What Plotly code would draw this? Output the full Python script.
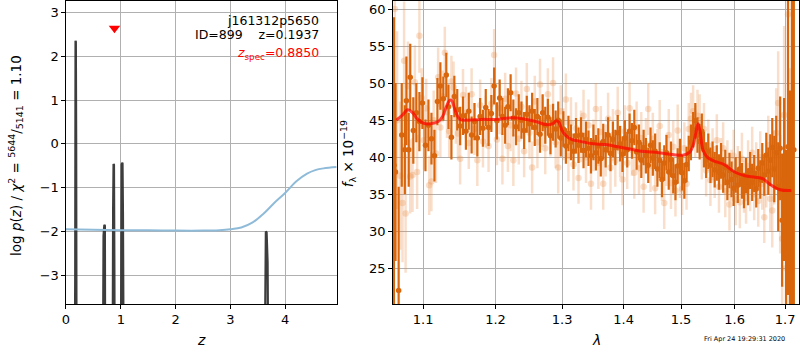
import plotly.graph_objects as go

# ---------------- left panel data ----------------
pz_z = [0.0, 0.155, 0.168, 0.174, 0.180, 0.186, 0.196,
        0.665, 0.685, 0.700, 0.710, 0.720,
        0.845, 0.860, 0.868, 0.876, 0.884, 0.895,
        0.995, 1.008, 1.016, 1.025, 1.032, 1.040, 1.050, 1.062,
        3.610, 3.632, 3.648, 3.662, 3.680, 3.705, 4.94]
pz_log = [-8, -8, -3.0, 2.35, 2.33, 0.1, -8,
          -8, -2.1, -1.85, -1.87, -8,
          -8, -1.5, -0.46, -0.48, -3.0, -8,
          -8, -1.0, -0.47, -0.43, -0.45, -1.6, -3.0, -8,
          -8, -2.6, -2.0, -2.02, -2.7, -8, -8]

chi_z = [0.0, 0.5, 1.0, 1.5, 2.0, 2.5, 2.8, 3.0, 3.2, 3.4, 3.6, 3.8, 4.0,
         4.2, 4.4, 4.55, 4.7, 4.94]
chi_v = [-1.95, -1.96, -1.97, -1.97, -1.98, -1.98, -1.97, -1.95, -1.91, -1.80,
         -1.60, -1.35, -1.12, -0.86, -0.68, -0.60, -0.56, -0.53]

zspec = [0.885]
zspec_y = [2.64]

# ---------------- right panel data ----------------
dark_wave = [1.062, 1.064, 1.068, 1.072, 1.076, 1.078, 1.081, 1.083, 1.087, 1.091,
             1.095, 1.099, 1.103, 1.107, 1.111, 1.115, 1.119, 1.123, 1.127, 1.131,
             1.134, 1.138, 1.142, 1.146, 1.150, 1.154, 1.158, 1.162, 1.166, 1.170,
             1.174, 1.178, 1.182, 1.186, 1.190, 1.194, 1.198, 1.202, 1.206, 1.210,
             1.214, 1.218, 1.222, 1.226, 1.230, 1.234, 1.238, 1.242, 1.246, 1.250,
             1.254, 1.258, 1.262, 1.266, 1.270, 1.274, 1.278, 1.282, 1.286, 1.290,
             1.294, 1.298, 1.302, 1.306, 1.310, 1.314, 1.318, 1.322, 1.326, 1.330,
             1.334, 1.338, 1.342, 1.346, 1.350, 1.354, 1.358, 1.362, 1.366, 1.370,
             1.374, 1.378, 1.382, 1.386, 1.390, 1.394, 1.398, 1.402, 1.406, 1.410,
             1.414, 1.418, 1.422, 1.426, 1.430, 1.434, 1.438, 1.442, 1.446, 1.450,
             1.454, 1.458, 1.462, 1.466, 1.470, 1.474, 1.478, 1.482, 1.486, 1.490,
             1.494, 1.498, 1.502, 1.506, 1.510, 1.514, 1.518, 1.522, 1.526, 1.530,
             1.534, 1.538, 1.542, 1.546, 1.550, 1.554, 1.558, 1.562, 1.566, 1.570,
             1.574, 1.578, 1.582, 1.586, 1.590, 1.594, 1.598, 1.602, 1.606, 1.610,
             1.614, 1.618, 1.622, 1.626, 1.630, 1.634, 1.638, 1.642, 1.646, 1.650,
             1.654, 1.658, 1.662, 1.666, 1.670, 1.674, 1.678, 1.682, 1.686, 1.690,
             1.694, 1.698, 1.702, 1.706, 1.710, 1.714, 1.718]
dark_flux = [38.9, 38.0, 22.0, 43.0, 41.0, 47.6, 41.0, 50.8, 43.6, 46.0,
             44.8, 47.3, 41.6, 44.3, 42.5, 40.2, 47.5, 49.6, 47.9, 51.1,
             46.8, 42.7, 48.2, 46.4, 44.2, 45.6, 43.5, 46.2, 43.0, 44.8,
             42.6, 45.5, 43.9, 46.7, 44.0, 45.9, 49.6, 44.9, 48.0, 45.5,
             44.3, 46.8, 48.7, 45.3, 44.1, 46.0, 45.0, 43.6, 45.8, 44.5,
             46.2, 44.0, 45.5, 43.1, 46.0, 44.3, 45.4, 42.9, 44.7, 43.8,
             45.0, 42.6, 43.8, 41.5, 43.2, 42.0, 40.8, 42.9, 41.6, 43.0,
             40.9, 42.4, 41.2, 40.2, 42.0, 40.6, 41.5, 39.8, 42.1, 41.0,
             43.0, 40.5, 42.4, 41.3, 43.3, 41.8, 40.4, 42.6, 41.0, 43.5,
             42.2, 44.0, 40.7, 42.0, 39.6, 41.3, 40.2, 38.9, 41.6, 39.9,
             40.8, 38.4, 39.6, 37.0, 39.2, 40.6, 38.0, 39.7, 37.5, 36.6,
             38.8, 40.1, 37.9, 36.8, 39.0, 40.5, 42.0, 43.7, 44.9, 43.0,
             42.1, 43.5, 41.0, 39.6, 40.8, 38.9, 39.7, 38.3, 39.2, 38.0,
             39.5, 37.6, 38.6, 36.6, 38.2, 37.0, 35.8, 37.6, 36.2, 38.4,
             36.8, 35.5, 37.5, 36.0, 38.2, 36.6, 37.8, 35.7, 38.5, 37.0,
             39.2, 37.6, 40.3, 38.1, 39.6, 41.3, 38.4, 40.6, 36.0, 41.2,
             31.5, 37.0, 27.0, 41.4, 24.0, 41.5, 41.0]
dark_err = [20, 12, 14, 7, 6, 6, 5, 4.5, 4.5, 4,
            4, 3.5, 3.5, 3.5, 3.5, 3.5, 3.2, 3.2, 3.0, 3.0,
            3.0, 3.0, 2.8, 2.8, 2.6, 2.6, 2.5, 2.5, 2.5, 2.5,
            2.5, 2.5, 2.5, 2.5, 2.5, 2.5, 2.5, 2.5, 2.5, 2.5,
            2.5, 2.5, 2.5, 2.5, 2.5, 2.5, 2.5, 2.5, 2.5, 2.5,
            2.5, 2.5, 2.5, 2.5, 2.5, 2.5, 2.5, 2.5, 2.5, 2.5,
            2.5, 2.5, 2.4, 2.4, 2.4, 2.4, 2.4, 2.4, 2.4, 2.4,
            2.4, 2.4, 2.4, 2.4, 2.4, 2.4, 2.4, 2.4, 2.4, 2.4,
            2.4, 2.4, 2.4, 2.4, 2.4, 2.4, 2.4, 2.4, 2.4, 2.4,
            2.4, 2.4, 2.4, 2.4, 2.4, 2.4, 2.4, 2.4, 2.4, 2.4,
            2.4, 2.4, 2.4, 2.4, 2.4, 2.4, 2.4, 2.4, 2.4, 2.4,
            2.4, 2.4, 2.4, 2.4, 2.4, 2.4, 2.4, 2.4, 2.4, 2.4,
            2.4, 2.4, 2.4, 2.4, 2.4, 2.4, 2.4, 2.4, 2.4, 2.4,
            2.4, 2.4, 2.4, 2.4, 2.4, 2.4, 2.4, 2.4, 2.4, 2.4,
            2.4, 2.4, 2.4, 2.5, 2.5, 2.5, 2.5, 2.5, 2.6, 2.6,
            2.7, 2.8, 3.0, 3.2, 3.5, 4.0, 4.5, 5.0, 6.0, 7.0,
            9.0, 11, 14, 20, 25, 30, 30]

light_wave = [1.063, 1.066, 1.070, 1.073, 1.075, 1.077, 1.080, 1.083, 1.086, 1.089,
              1.092, 1.095, 1.098, 1.101, 1.104, 1.108, 1.111, 1.114, 1.117, 1.120,
              1.123, 1.126, 1.129, 1.132, 1.135, 1.138, 1.141, 1.144, 1.147, 1.150,
              1.154, 1.158, 1.162, 1.166, 1.170, 1.174, 1.178, 1.182, 1.186, 1.190,
              1.194, 1.198, 1.202, 1.206, 1.210, 1.214, 1.218, 1.222, 1.226, 1.230,
              1.234, 1.238, 1.242, 1.246, 1.250, 1.254, 1.258, 1.262, 1.266, 1.270,
              1.274, 1.278, 1.282, 1.286, 1.290, 1.294, 1.298, 1.302, 1.306, 1.310,
              1.314, 1.318, 1.322, 1.326, 1.330, 1.334, 1.338, 1.342, 1.346, 1.350,
              1.354, 1.358, 1.362, 1.366, 1.370, 1.374, 1.378, 1.382, 1.386, 1.390,
              1.394, 1.398, 1.402, 1.406, 1.410, 1.414, 1.418, 1.422, 1.426, 1.430,
              1.434, 1.438, 1.442, 1.446, 1.450, 1.454, 1.458, 1.462, 1.466, 1.470,
              1.474, 1.478, 1.482, 1.486, 1.490, 1.494, 1.498, 1.502, 1.506, 1.510,
              1.514, 1.518, 1.522, 1.526, 1.530, 1.534, 1.538, 1.542, 1.546, 1.550,
              1.554, 1.558, 1.562, 1.566, 1.570, 1.574, 1.578, 1.582, 1.586, 1.590,
              1.594, 1.598, 1.602, 1.606, 1.610, 1.614, 1.618, 1.622, 1.626, 1.630,
              1.634, 1.638, 1.642, 1.646, 1.650, 1.654, 1.658, 1.662, 1.666, 1.670,
              1.674, 1.678, 1.682, 1.686, 1.690, 1.694, 1.698, 1.702, 1.706, 1.710]
light_flux = [60.0, 45.0, 37.5, 33.8, 53.0, 32.4, 49.6, 37.4, 37.6, 50.1,
              38.0, 56.4, 48.0, 42.3, 46.6, 36.2, 36.7, 45.0, 40.5, 50.8,
              44.0, 48.2, 54.1, 46.1, 43.5, 50.2, 49.4, 45.3, 43.2, 39.8,
              48.4, 46.0, 41.9, 48.5, 43.8, 39.6, 47.0, 42.1, 44.8, 41.5,
              47.2, 53.8, 42.4, 46.6, 39.8, 47.9, 41.5, 44.3, 39.6, 48.6,
              42.5, 46.8, 40.8, 49.2, 43.3, 38.6, 47.5, 42.0, 49.8, 44.9,
              41.2, 48.5, 43.6, 50.0, 42.0, 38.6, 46.2, 43.1, 47.8, 40.2,
              44.6, 39.0, 43.9, 37.2, 42.8, 45.6, 40.0, 44.3, 36.4, 41.6,
              46.5, 39.2, 43.4, 36.4, 40.9, 45.2, 38.6, 43.0, 39.5, 46.0,
              40.8, 37.0, 43.5, 39.2, 46.6, 41.0, 37.9, 44.0, 38.5, 42.6,
              36.0, 41.8, 46.5, 38.8, 42.5, 35.8, 40.3, 44.2, 37.6, 33.8,
              39.6, 43.0, 36.5, 41.4, 35.5, 43.6, 38.0, 35.7, 41.2, 36.4,
              43.8, 45.2, 46.2, 43.5, 45.6, 45.0, 40.5, 43.8, 38.2, 41.6,
              36.9, 40.4, 38.0, 42.3, 36.0, 39.1, 41.2, 35.4, 38.8, 33.6,
              37.5, 40.2, 34.3, 38.0, 33.9, 39.8, 36.0, 34.5, 38.8, 36.2,
              40.6, 35.0, 38.5, 34.1, 40.0, 36.4, 31.9, 37.2, 41.6, 34.4,
              32.8, 38.6, 43.3, 47.3, 35.0, 29.0, 45.7, 25.0, 59.3, 27.0]
light_err = [15, 12, 10, 8, 8, 8, 6, 5, 5, 5,
             5, 5, 4, 4, 4, 4, 4, 4, 4, 4,
             4, 3.5, 3.5, 3.5, 3.5, 3.5, 3.5, 3.5, 3.5, 3.5,
             3.5, 3.5, 3.5, 3.5, 3.5, 3.5, 3.5, 3.5, 3.5, 3.5,
             3.5, 3.5, 3.5, 3.5, 3.5, 3.5, 3.5, 3.5, 3.5, 3.5,
             3.5, 3.5, 3.5, 3.5, 3.5, 3.5, 3.5, 3.5, 3.5, 3.5,
             3.5, 3.5, 3.5, 3.5, 3.5, 3.5, 3.5, 3.5, 3.5, 3.5,
             3.5, 3.5, 3.5, 3.5, 3.5, 3.5, 3.5, 3.5, 3.5, 3.5,
             3.5, 3.5, 3.5, 3.5, 3.5, 3.5, 3.5, 3.5, 3.5, 3.5,
             3.5, 3.5, 3.5, 3.5, 3.5, 3.5, 3.5, 3.5, 3.5, 3.5,
             3.5, 3.5, 3.5, 3.5, 3.5, 3.5, 3.5, 3.5, 3.5, 3.5,
             3.5, 3.5, 3.5, 3.5, 3.5, 3.5, 3.5, 3.5, 3.5, 3.5,
             3.5, 3.5, 3.5, 3.5, 3.5, 3.5, 3.5, 3.5, 3.5, 3.5,
             3.5, 3.5, 3.5, 3.5, 3.5, 3.5, 3.5, 3.5, 3.5, 3.5,
             3.5, 3.5, 3.5, 3.5, 3.5, 3.5, 3.5, 3.5, 3.5, 3.5,
             3.5, 3.5, 3.5, 3.5, 3.5, 3.5, 3.5, 4, 4, 4.5,
             5, 5, 6, 7, 8, 10, 12, 15, 20, 25]

model_wave = [1.065, 1.072, 1.080, 1.086, 1.092, 1.100, 1.110, 1.120, 1.126, 1.131,
              1.135, 1.138, 1.141, 1.145, 1.150, 1.160, 1.180, 1.200, 1.220, 1.240,
              1.260, 1.275, 1.285, 1.291, 1.295, 1.300, 1.306, 1.315, 1.330, 1.350,
              1.370, 1.390, 1.410, 1.430, 1.450, 1.470, 1.490, 1.505, 1.515, 1.522,
              1.527, 1.531, 1.535, 1.540, 1.548, 1.560, 1.580, 1.600, 1.620, 1.640,
              1.655, 1.670, 1.690, 1.713]
model_flux = [45.0, 45.6, 46.4, 46.0, 45.2, 44.6, 44.5, 44.8, 45.5, 46.8,
              47.6, 47.7, 47.0, 45.8, 45.1, 45.0, 45.1, 45.1, 45.3, 45.2,
              44.8, 44.4, 44.5, 44.9, 44.7, 43.6, 42.9, 42.4, 42.1, 41.8,
              41.7, 41.4, 41.1, 40.8, 40.7, 40.5, 40.3, 40.3, 40.6, 41.6,
              43.3, 44.5, 43.4, 41.0, 40.0, 39.5, 39.0, 38.0, 37.5, 37.3,
              37.1, 36.3, 35.6, 35.5]

xtick_l = [0, 1, 2, 3, 4]
ytick_l = [-3, -2, -1, 0, 1, 2, 3]
xtick_r = [1.1, 1.2, 1.3, 1.4, 1.5, 1.6, 1.7]
ytick_r = [25, 30, 35, 40, 45, 50, 55, 60]

FONT = "DejaVu Sans"
W, H = 800, 350
DARK = "#d9660c"
LIGHT = "rgba(232,140,70,0.28)"

fig = go.Figure()

fig.add_trace(go.Scatter(x=pz_z, y=pz_log, mode="lines",
                         line=dict(color="rgba(40,40,40,0.9)", width=2.2),
                         xaxis="x", yaxis="y", showlegend=False))
fig.add_trace(go.Scatter(x=chi_z, y=chi_v, mode="lines",
                         line=dict(color="#8fbbd9", width=2, shape="spline"),
                         xaxis="x", yaxis="y", showlegend=False))
fig.add_trace(go.Scatter(x=zspec, y=zspec_y, mode="markers",
                         marker=dict(symbol="triangle-down", color="red", size=10),
                         xaxis="x", yaxis="y", showlegend=False))

fig.add_trace(go.Scatter(x=light_wave, y=light_flux, mode="markers",
                         marker=dict(color=LIGHT, size=6.5),
                         error_y=dict(type="data", array=light_err, color=LIGHT,
                                      thickness=2.5, width=0),
                         xaxis="x2", yaxis="y2", showlegend=False))
fig.add_trace(go.Scatter(x=dark_wave, y=dark_flux, mode="markers",
                         marker=dict(color=DARK, size=5.5),
                         error_y=dict(type="data", array=dark_err, color=DARK,
                                      thickness=2.2, width=0),
                         xaxis="x2", yaxis="y2", showlegend=False))
fig.add_trace(go.Scatter(x=model_wave, y=model_flux, mode="lines",
                         line=dict(color="rgba(255,0,0,0.7)", width=3, shape="spline"),
                         xaxis="x2", yaxis="y2", showlegend=False))

axis_common = dict(showgrid=True, gridcolor="#b0b0b0", gridwidth=1,
                   showline=True, linecolor="black", linewidth=1, mirror=True,
                   ticks="outside", ticklen=3.5, tickwidth=1, tickcolor="black",
                   tickfont=dict(family=FONT, size=13, color="black"),
                   zeroline=False)

fig.update_layout(
    width=W, height=H, margin=dict(l=0, r=0, t=0, b=0),
    paper_bgcolor="white", plot_bgcolor="white",
    font=dict(family=FONT, color="black"),
    xaxis=dict(domain=[62.3 / W, 334.3 / W], range=[0, 4.94],
               tickvals=xtick_l, anchor="y", **axis_common),
    yaxis=dict(domain=[1 - 304 / H, 1 - 1 / H], range=[-3.655, 3.26],
               tickvals=ytick_l, anchor="x", **axis_common),
    xaxis2=dict(domain=[390.7 / W, 799.3 / W], type="log",
                range=[0.02549, 0.23788], tickvals=xtick_r,
                ticktext=[str(v) for v in xtick_r], anchor="y2", **axis_common),
    yaxis2=dict(domain=[1 - 304 / H, 1 - 1 / H], range=[20.18, 61.08],
                tickvals=ytick_r, anchor="x2", **axis_common),
)

ann = [
    dict(text="j161312p5650", x=319 / W, y=1 - 20 / H, xanchor="right",
         yanchor="middle", font=dict(size=12.5, color="black")),
    dict(text="ID=899    z=0.1937", x=319 / W, y=1 - 34 / H, xanchor="right",
         yanchor="middle", font=dict(size=12.5, color="black")),
    dict(text="<i>z</i><sub>spec</sub>=0.8850", x=319 / W, y=1 - 54 / H,
         xanchor="right", yanchor="middle", font=dict(size=12.5, color="red")),
    dict(text="<i>z</i>", x=198 / W, y=1 - 340 / H, xanchor="center",
         yanchor="middle", font=dict(size=14, color="black")),
    dict(text="<i>λ</i>", x=595 / W, y=1 - 340 / H, xanchor="center",
         yanchor="middle", font=dict(size=14, color="black")),
    dict(text="log <i>p</i>(<i>z</i>) / <i>χ</i><sup>2</sup> = <sup>5644</sup>/<sub>5141</sub> = 1.10",
         x=12 / W, y=1 - 155 / H, xanchor="center", yanchor="middle",
         textangle=-90, font=dict(size=13.5, color="black")),
    dict(text="<i>f</i><sub>λ</sub> × 10<sup>−19</sup>", x=346 / W, y=1 - 154 / H,
         xanchor="center", yanchor="middle", textangle=-90,
         font=dict(size=13.5, color="black")),
    dict(text="Fri Apr 24 19:29:31 2020", x=744 / W, y=1 - 339 / H,
         xanchor="center", yanchor="middle", font=dict(size=6.5, color="black")),
]
for a in ann:
    a.update(xref="paper", yref="paper", showarrow=False)
    a["font"]["family"] = FONT
fig.update_layout(annotations=ann)

fig.write_html("out.html")
